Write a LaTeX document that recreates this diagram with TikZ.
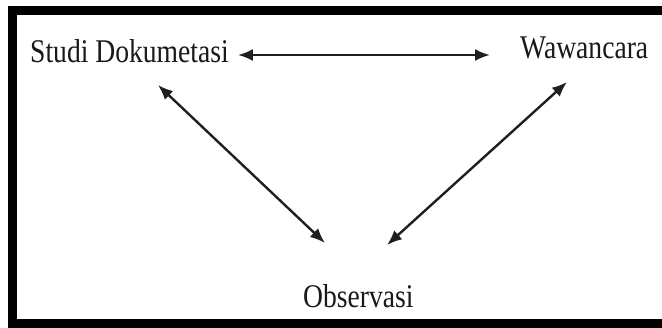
\documentclass[tikz,border=0pt]{standalone}
\usepackage{fontspec}
\setmainfont{Liberation Serif}
\usetikzlibrary{arrows.meta}
\begin{document}
\begin{tikzpicture}[x=1pt,y=-1pt,
  lbl/.style={inner sep=0pt, anchor=base west, font=\fontsize{27.6}{30}\selectfont, text=black!90},
  link/.style={line width=2.4pt, {Latex[length=15pt,width=12pt]}-{Latex[length=15pt,width=12pt]}, draw=black!88},
  frame/.style={line width=9pt, draw=black}]
\useasboundingbox (0,0) rectangle (662,327);
\fill[white] (0,0) rectangle (662,327);
\begin{scope}
\clip (0,0) rectangle (662,327);
\draw[frame] (690,10) -- (12,10) -- (12,323) -- (690,323);
\end{scope}
\node[lbl] (studi) at (30,62) {\scalebox{1}[1.2]{Studi Dokumetasi}};
\node[lbl] (wawan) at (520,58) {\scalebox{1}[1.2]{Wawancara}};
\node[lbl] (obs) at (303,307) {\scalebox{1}[1.2]{Observasi}};
\draw[link] ([shift={(9,-7)}]studi.base east) -- ([shift={(-30,-3)}]wawan.base west);
\draw[link] ([shift={(128,23)}]studi.base west) -- ([shift={(22,-64)}]obs.base west);
\draw[link] ([shift={(84,-62)}]obs.base west) -- ([shift={(47,24)}]wawan.base west);
\end{tikzpicture}
\end{document}
